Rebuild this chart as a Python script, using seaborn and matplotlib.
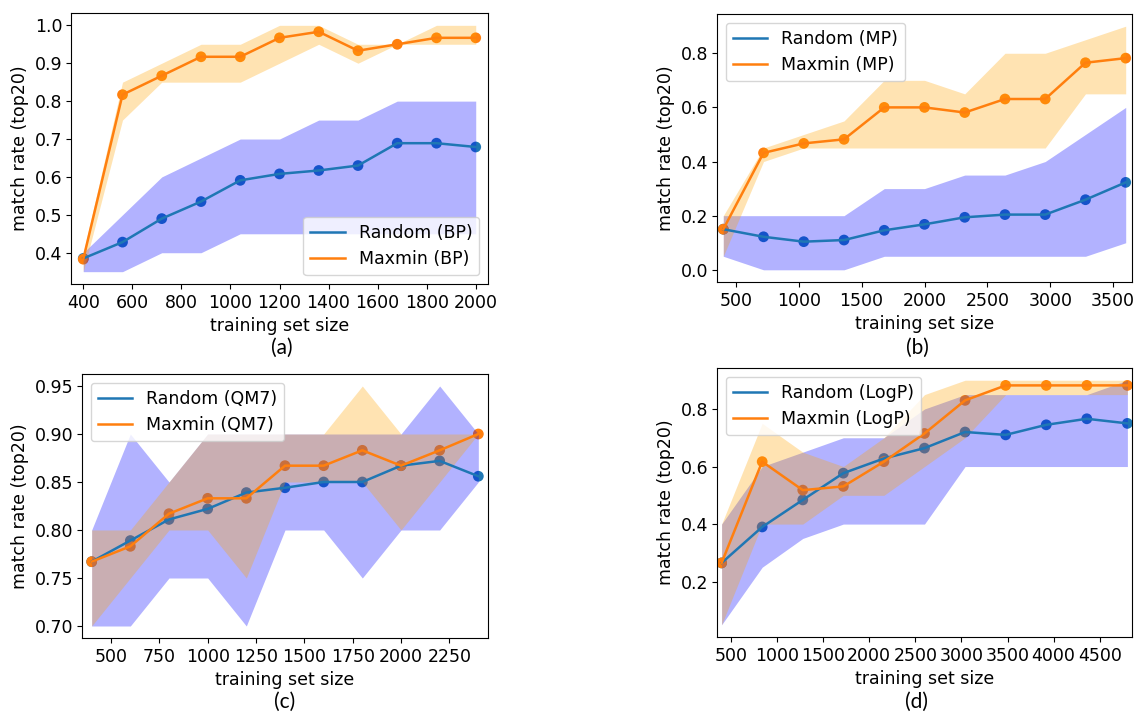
import matplotlib
matplotlib.use("Agg")
import matplotlib.pyplot as plt
from matplotlib.ticker import MultipleLocator
import seaborn as sns

# ---------------- data ----------------
xa = [400, 560, 720, 880, 1040, 1200, 1360, 1520, 1680, 1840, 2000]
a_rand = [0.385, 0.428, 0.490, 0.535, 0.591, 0.608, 0.617, 0.630, 0.689, 0.689, 0.679]
a_rand_lo = [0.35, 0.35, 0.40, 0.40, 0.45, 0.45, 0.45, 0.45, 0.45, 0.45, 0.45]
a_rand_hi = [0.40, 0.50, 0.60, 0.65, 0.70, 0.70, 0.75, 0.75, 0.80, 0.80, 0.80]
a_max = [0.383, 0.817, 0.867, 0.917, 0.917, 0.967, 0.983, 0.933, 0.950, 0.967, 0.967]
a_max_lo = [0.35, 0.75, 0.85, 0.85, 0.85, 0.90, 0.95, 0.90, 0.95, 0.95, 0.95]
a_max_hi = [0.40, 0.85, 0.90, 0.95, 0.95, 1.00, 1.00, 0.95, 0.95, 1.00, 1.00]

xb = [400, 720, 1040, 1360, 1680, 2000, 2320, 2640, 2960, 3280, 3600]
b_rand = [0.150, 0.122, 0.104, 0.110, 0.146, 0.168, 0.194, 0.204, 0.204, 0.259, 0.323]
b_rand_lo = [0.05, 0.00, 0.00, 0.00, 0.05, 0.05, 0.05, 0.05, 0.05, 0.05, 0.10]
b_rand_hi = [0.20, 0.20, 0.20, 0.20, 0.30, 0.30, 0.35, 0.35, 0.40, 0.50, 0.60]
b_max = [0.150, 0.432, 0.467, 0.482, 0.600, 0.600, 0.581, 0.631, 0.631, 0.765, 0.782]
b_max_lo = [0.05, 0.40, 0.45, 0.45, 0.45, 0.45, 0.45, 0.45, 0.45, 0.65, 0.65]
b_max_hi = [0.20, 0.45, 0.50, 0.55, 0.70, 0.70, 0.65, 0.80, 0.80, 0.85, 0.90]

xc = [400, 600, 800, 1000, 1200, 1400, 1600, 1800, 2000, 2200, 2400]
c_rand = [0.767, 0.789, 0.811, 0.822, 0.839, 0.844, 0.850, 0.850, 0.867, 0.872, 0.856]
c_rand_lo = [0.70, 0.70, 0.75, 0.75, 0.70, 0.80, 0.80, 0.75, 0.80, 0.80, 0.85]
c_rand_hi = [0.80, 0.90, 0.85, 0.90, 0.90, 0.90, 0.90, 0.90, 0.90, 0.95, 0.90]
c_max = [0.767, 0.783, 0.817, 0.833, 0.833, 0.867, 0.867, 0.883, 0.867, 0.883, 0.900]
c_max_lo = [0.70, 0.75, 0.80, 0.80, 0.75, 0.85, 0.85, 0.85, 0.80, 0.85, 0.90]
c_max_hi = [0.80, 0.80, 0.85, 0.90, 0.90, 0.90, 0.90, 0.95, 0.90, 0.90, 0.90]

xd = [400, 840, 1280, 1720, 2160, 2600, 3040, 3480, 3920, 4360, 4800]
d_rand = [0.265, 0.390, 0.484, 0.577, 0.628, 0.664, 0.720, 0.710, 0.745, 0.766, 0.750]
d_rand_lo = [0.05, 0.25, 0.35, 0.40, 0.40, 0.40, 0.60, 0.60, 0.60, 0.60, 0.60]
d_rand_hi = [0.40, 0.60, 0.65, 0.70, 0.70, 0.80, 0.85, 0.85, 0.85, 0.85, 0.90]
d_max = [0.265, 0.617, 0.518, 0.531, 0.617, 0.715, 0.830, 0.882, 0.882, 0.882, 0.882]
d_max_lo = [0.05, 0.40, 0.40, 0.50, 0.50, 0.60, 0.70, 0.85, 0.85, 0.85, 0.85]
d_max_hi = [0.40, 0.75, 0.65, 0.60, 0.70, 0.85, 0.90, 0.90, 0.90, 0.90, 0.90]

datasets = ["BP", "MP", "QM7", "LogP"]
panel_labels = ["(a)", "(b)", "(c)", "(d)"]
legend_locs = ["lower right", "upper left", "upper left", "upper left"]
x_steps = [200, 500, 250, 500]
y_steps = [0.1, 0.2, 0.05, 0.2]

panels = [
    (xa, a_rand, a_rand_lo, a_rand_hi, a_max, a_max_lo, a_max_hi),
    (xb, b_rand, b_rand_lo, b_rand_hi, b_max, b_max_lo, b_max_hi),
    (xc, c_rand, c_rand_lo, c_rand_hi, c_max, c_max_lo, c_max_hi),
    (xd, d_rand, d_rand_lo, d_rand_hi, d_max, d_max_lo, d_max_hi),
]

# ---------------- layout ----------------
FS = 12.5
plt.rcParams.update({
    "font.family": ["DejaVu Sans"],
    "font.size": FS,
    "xtick.labelsize": FS,
    "ytick.labelsize": FS,
    "axes.labelsize": FS,
    "legend.fontsize": FS,
})

W, H = 1135, 714
fig = plt.figure(figsize=(W / 100, H / 100), dpi=100)

boxes = [  # left, top, right, bottom in pixels
    (71, 13, 488, 284),
    (717, 14, 1132, 282),
    (82, 374, 488, 638),
    (717, 368, 1132, 637),
]
label_pos = [(282, 348), (917, 348), (285, 702), (917, 702)]

C_BLUE = "#1f77b4"
C_ORANGE = "#ff7f0e"

for i, (x, r, rlo, rhi, m, mlo, mhi) in enumerate(panels):
    l, t, rr, b = boxes[i]
    ax = fig.add_axes([l / W, 1 - b / H, (rr - l) / W, (b - t) / H])

    sns.scatterplot(x=x, y=r, ax=ax, color=C_BLUE, s=60, edgecolor="none",
                    legend=False, zorder=2)
    sns.scatterplot(x=x, y=m, ax=ax, color=C_ORANGE, s=60, edgecolor="none",
                    legend=False, zorder=2)
    ax.fill_between(x, rlo, rhi, color="blue", alpha=0.3, linewidth=0, zorder=3)
    ax.fill_between(x, mlo, mhi, color="orange", alpha=0.3, linewidth=0, zorder=3)
    sns.lineplot(x=x, y=r, ax=ax, color=C_BLUE, linewidth=1.8,
                 label=f"Random ({datasets[i]})", zorder=4)
    sns.lineplot(x=x, y=m, ax=ax, color=C_ORANGE, linewidth=1.8,
                 label=f"Maxmin ({datasets[i]})", zorder=4)

    ax.set_xlim(x[0] - 50, x[-1] + 50)
    ax.xaxis.set_major_locator(MultipleLocator(x_steps[i]))
    ax.yaxis.set_major_locator(MultipleLocator(y_steps[i]))
    ax.set_xlabel("training set size")
    ax.set_ylabel("match rate (top20)")
    ax.tick_params(axis="y", pad=2.5)
    ax.legend(loc=legend_locs[i])

    lx, ly = label_pos[i]
    fig.text(lx / W, 1 - ly / H, panel_labels[i], ha="center", va="center",
             fontsize=15, family=["Lato", "DejaVu Sans"])

fig.savefig("out.png", dpi=100)
